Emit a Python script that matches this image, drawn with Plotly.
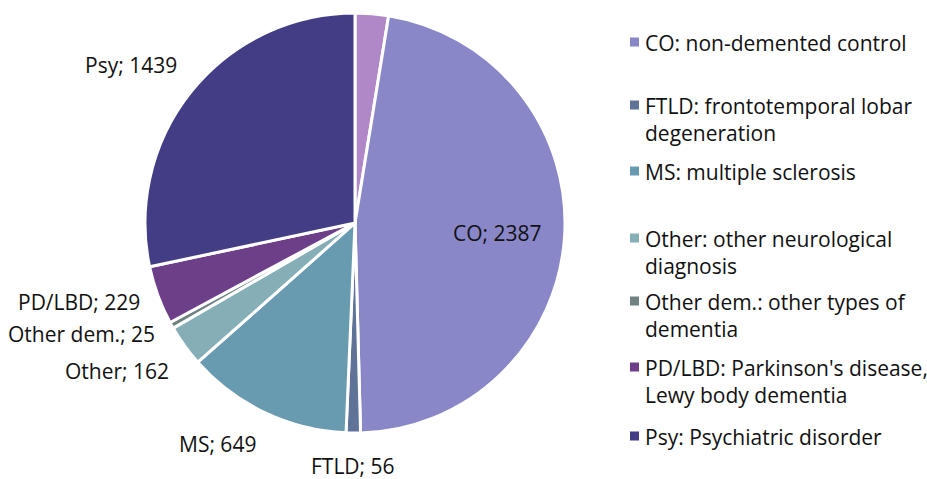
import math
import plotly.graph_objects as go

# Data
short_names = ["", "CO", "FTLD", "MS", "Other", "Other dem.", "PD/LBD", "Psy"]
slice_ids = ["Unlabeled", "CO", "FTLD", "MS", "Other", "Other dem.", "PD/LBD", "Psy"]
values = [130, 2387, 56, 649, 162, 25, 229, 1439]
colors = ["#b088c8", "#8a87c8", "#5f7399", "#689ab0", "#86aeb6", "#6f8282", "#6e3f89", "#433d86"]

legend_texts = [
    "CO: non-demented control",
    "FTLD: frontotemporal lobar<br>degeneration",
    "MS: multiple sclerosis",
    "Other: other neurological<br>diagnosis",
    "Other dem.: other types of<br>dementia",
    "PD/LBD: Parkinson's disease,<br>Lewy body dementia",
    "Psy: Psychiatric disorder",
]
legend_colors = colors[1:]

FONT = "'Open Sans', 'Noto Sans', sans-serif"
FS = 21
TXT = "#111111"

W, H = 927, 479
cx, cy, r = 355, 223, 210

fig = go.Figure(go.Pie(
    labels=slice_ids,
    values=values,
    textinfo="none",
    sort=False,
    direction="clockwise",
    rotation=0,
    marker=dict(colors=colors, line=dict(color="white", width=3)),
    domain=dict(x=[(cx - r) / W, (cx + r) / W], y=[1 - (cy + r) / H, 1 - (cy - r) / H]),
    showlegend=False,
    hoverinfo="label+value",
))

# Data labels, positioned from each slice's mid-angle
total = sum(values)
cum = 0.0
for name, v in zip(short_names, values):
    a0 = cum / total * 2 * math.pi
    cum += v
    a1 = cum / total * 2 * math.pi
    if not name:
        continue
    mid = (a0 + a1) / 2
    ux, uy = math.sin(mid), -math.cos(mid)
    label = f"{name}; {v}"
    if name == "CO":
        px, py = cx + 0.68 * r * ux, cy + 0.68 * r * uy
        xa, ya = "center", "middle"
    else:
        d = r + 18
        px, py = cx + d * ux, cy + d * uy
        xa = "center" if abs(ux) < 0.3 else ("right" if ux < 0 else "left")
        ya = "middle" if abs(uy) < 0.5 else ("bottom" if uy < 0 else "top")
    fig.add_annotation(xref="paper", yref="paper", x=px / W, y=1 - py / H,
                       xanchor=xa, yanchor=ya, showarrow=False, text=label,
                       borderpad=0,
                       font=dict(family=FONT, size=FS, color=TXT))

# Manual legend
centers = [42, 105, 171, 238, 301, 367, 436]
for yc, txt, c in zip(centers, legend_texts, legend_colors):
    fig.add_shape(type="rect", xref="paper", yref="paper",
                  x0=630 / W, x1=639 / W, y0=1 - (yc + 4.5) / H, y1=1 - (yc - 4.5) / H,
                  fillcolor=c, line=dict(width=0))
    fig.add_annotation(xref="paper", yref="paper", x=643 / W, y=1 - (yc - 15) / H,
                       xanchor="left", yanchor="top", align="left", showarrow=False,
                       text=txt, font=dict(family=FONT, size=FS, color=TXT))

fig.update_layout(
    width=W, height=H,
    margin=dict(l=0, r=0, t=0, b=0),
    paper_bgcolor="white",
    plot_bgcolor="white",
)

fig.write_html("out.html", config={"displayModeBar": False},
               post_script="document.body.style.margin='0px';")
